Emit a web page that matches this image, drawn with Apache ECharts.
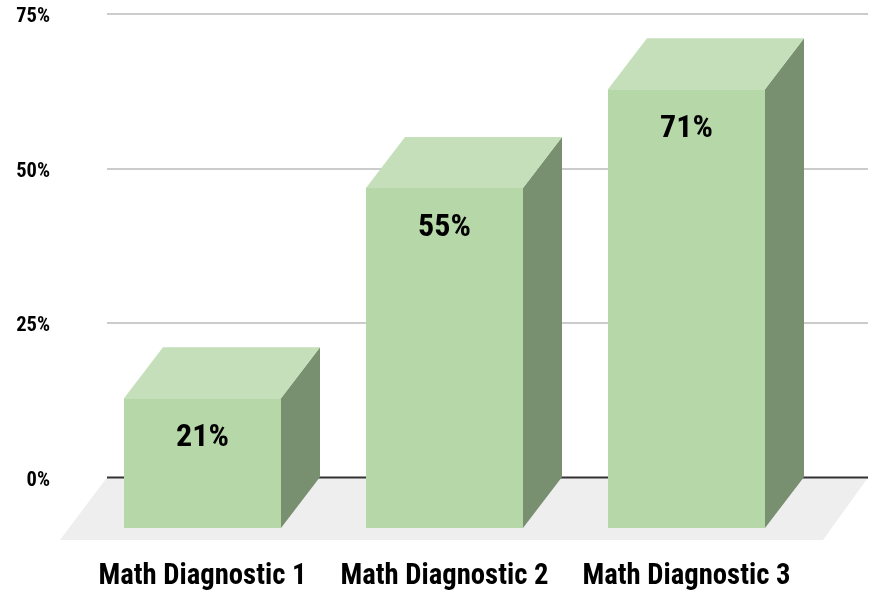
<!DOCTYPE html>
<html><head><meta charset="utf-8">
<style>html,body{margin:0;padding:0;background:#fff}#c{width:871px;height:593px}</style>
<script src="https://cdn.jsdelivr.net/npm/echarts@6/dist/echarts.min.js"></script>
</head><body><div id="c"></div>
<script>
const categories = ['Math Diagnostic 1', 'Math Diagnostic 2', 'Math Diagnostic 3'];
const scores = [21, 55, 71];
const yTicks = [0, 25, 50, 75];
const FONT = '"Liberation Sans Narrow","Roboto Condensed",Roboto,sans-serif';
const DX = 39, DY = 51;
const chart = echarts.init(document.getElementById('c'), null, {renderer: 'canvas'});
chart.setOption({
  animation: false,
  backgroundColor: '#ffffff',
  grid: [
    {left: 107, top: 14, width: 761, height: 463.5},
    {left: 81.5, top: 64.5, width: 726, height: 463.5}
  ],
  xAxis: [
    {gridIndex: 0, type: 'value', min: 0, max: 1, show: false},
    {gridIndex: 1, type: 'category', data: categories,
     axisLine: {show: false}, axisTick: {show: false},
     axisLabel: {color: '#000', fontFamily: FONT, fontWeight: 'bold', fontSize: 28.7, margin: 34, interval: 0, hideOverlap: false}}
  ],
  yAxis: [
    {gridIndex: 0, type: 'value', min: yTicks[0], max: yTicks[yTicks.length - 1], interval: 25,
     axisLine: {show: false}, axisTick: {show: false},
     axisLabel: {color: '#000', fontFamily: FONT, fontWeight: 'bold', fontSize: 20.5, margin: 57, verticalAlign: 'top', lineHeight: 6, formatter: '{value}%', showMaxLabel: true, showMinLabel: true},
     splitLine: {show: true, lineStyle: {color: '#cccccc', width: 2}}},
    {gridIndex: 1, type: 'value', min: yTicks[0], max: yTicks[yTicks.length - 1], interval: 25, show: false, splitLine: {show: false}}
  ],
  series: [
    {type: 'custom', xAxisIndex: 0, yAxisIndex: 0, z: 1, data: [[0, 0]], silent: true,
     renderItem(params, api) {
       const a = api.coord([0, 0]), b = api.coord([1, 0]);
       return {type: 'group', children: [
         {type: 'polygon', shape: {points: [[a[0], a[1]], [b[0], b[1]], [b[0] - 45, b[1] + 62.5], [a[0] - 47, a[1] + 62.5]]},
          style: {fill: '#eeeeee'}},
         {type: 'line', shape: {x1: a[0], y1: a[1], x2: b[0], y2: b[1]}, style: {stroke: '#333333', lineWidth: 2}}
       ]};
     }},
    {type: 'custom', xAxisIndex: 1, yAxisIndex: 1, z: 3, silent: true,
     data: scores.map((v, i) => [i, v]),
     encode: {x: 0, y: 1},
     renderItem(params, api) {
       const v = api.value(1), i = api.value(0);
       const top = api.coord([i, v]), base = api.coord([i, 0]);
       const w = api.size([1, 0])[0] * 157 / 242;
       const l = top[0] - w / 2, r = top[0] + w / 2, t = top[1], b = base[1];
       return {type: 'group', children: [
         {type: 'polygon', shape: {points: [[r, t], [r + DX, t - DY], [r + DX, b - DY], [r, b]]}, style: {fill: '#78906f'}},
         {type: 'polygon', shape: {points: [[l, t], [l + DX, t - DY], [r + DX, t - DY], [r, t]]}, style: {fill: '#c5dfba'}},
         {type: 'rect', shape: {x: l, y: t, width: w, height: b - t}, style: {fill: '#b6d7a8'}},
         {type: 'text', x: top[0], y: t + 40,
          style: {text: v + '%', fill: '#000', font: 'bold 32px ' + FONT, textAlign: 'center', textVerticalAlign: 'middle'}}
       ]};
     }}
  ]
});
</script></body></html>
